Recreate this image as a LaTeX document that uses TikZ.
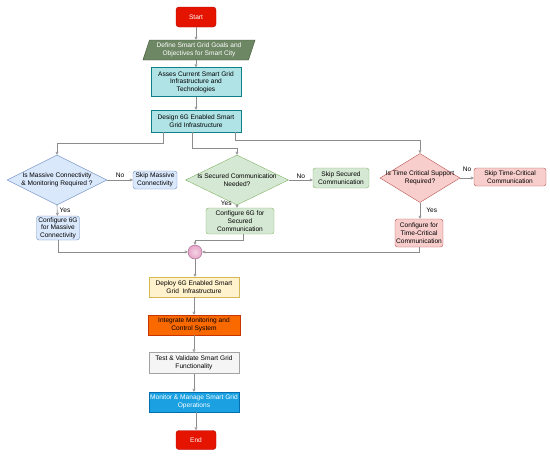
\documentclass[tikz,border=0pt]{standalone}
\usepackage{fontspec}
\setmainfont{Liberation Sans}
\usepackage{tikz}
\usetikzlibrary{arrows.meta, positioning, shapes.geometric, calc}

\definecolor{termred}{HTML}{E51400}
\definecolor{termredline}{HTML}{B20000}
\definecolor{goalgreen}{HTML}{6D8764}
\definecolor{goalgreenline}{HTML}{3A5431}
\definecolor{tealfill}{HTML}{B0E3E6}
\definecolor{tealline}{HTML}{0E8088}
\definecolor{bluefill}{HTML}{DAE8FC}
\definecolor{blueline}{HTML}{6C8EBF}
\definecolor{greenfill}{HTML}{D5E8D4}
\definecolor{greenline}{HTML}{82B366}
\definecolor{pinkfill}{HTML}{F8CECC}
\definecolor{pinkline}{HTML}{B85450}
\definecolor{yellowfill}{HTML}{FFF2CC}
\definecolor{yellowline}{HTML}{D6B656}
\definecolor{orangefill}{HTML}{FA6800}
\definecolor{orangeline}{HTML}{C73500}
\definecolor{greyfill}{HTML}{F5F5F5}
\definecolor{greyline}{HTML}{666666}
\definecolor{skyfill}{HTML}{1BA1E2}
\definecolor{skyline}{HTML}{006EAF}
\definecolor{mergefill}{HTML}{E6A4C8}
\definecolor{mergelight}{HTML}{F5D3E4}
\definecolor{mergeline}{HTML}{996185}
\definecolor{flowgrey}{HTML}{8C8C8C}

\tikzset{
  txt/.style={font=\fontsize{6.6}{7.7}\selectfont, align=center, inner sep=1pt},
  terminal/.style={txt, draw=termredline, fill=termred, text=white, rounded corners=3pt, minimum width=40pt, minimum height=20pt},
  goal/.style={txt, draw=goalgreenline, fill=goalgreen, text=white, trapezium, trapezium left angle=70, trapezium right angle=110, trapezium stretches=true, minimum width=113pt, minimum height=20pt},
  process/.style={txt, draw, minimum width=90pt, minimum height=20pt},
  option/.style={txt, draw, rounded corners=2.5pt},
  decision/.style={txt, draw, diamond, shape aspect=2, inner sep=0pt, inner xsep=-15pt},
  merge/.style={circle, draw=mergeline, inner color=mergelight, outer color=mergefill, minimum size=14pt, inner sep=0pt},
  flow/.style={draw=flowgrey, line width=0.6pt, -{Triangle[open, length=3pt, width=3pt]}},
  lbl/.style={font=\fontsize{6.6}{7.7}\selectfont, inner sep=1pt}
}

\begin{document}
\begin{tikzpicture}[x=1pt, y=-1pt]
  \useasboundingbox (0,0) rectangle (550,456);

  \node[terminal] (start) at (196,17) {Start};
  \node[goal] (goals) at (199,50) {Define Smart Grid Goals and\\Objectives for Smart City};
  \node[process, fill=tealfill, draw=tealline, minimum height=29pt] (assess) at (196,82) {Asses Current Smart Grid\\Infrastructure and\\Technologies};
  \node[process, fill=tealfill, draw=tealline, minimum height=22pt] (design) at (196,121) {Design 6G Enabled Smart\\Grid Infrastructure};

  \node[decision, fill=bluefill, draw=blueline, minimum width=100pt, minimum height=50pt] (massq) at (57,180) {Is Massive Connectivity\\\& Monitoring Required ?};
  \node[option, fill=bluefill, draw=blueline, minimum width=44pt, minimum height=18pt] (massskip) at (155,180) {Skip Massive\\Connectivity};
  \node[option, fill=bluefill, draw=blueline, minimum width=43pt, minimum height=24pt] (massconf) at (58,228) {Configure 6G\\for Massive\\Connectivity};

  \node[decision, fill=greenfill, draw=greenline, minimum width=103pt, minimum height=50pt] (secq) at (237,180) {Is Secured Communication\\Needed?};
  \node[option, fill=greenfill, draw=greenline, minimum width=56pt, minimum height=20pt] (secskip) at (341,178) {Skip Secured\\Communication};
  \node[option, fill=greenfill, draw=greenline, minimum width=68pt, minimum height=26pt] (secconf) at (240,221) {Configure 6G for\\Secured\\Communication};

  \node[decision, fill=pinkfill, draw=pinkline, minimum width=80pt, minimum height=49pt] (timeq) at (420,178) {Is Time Critical Support\\Required?};
  \node[option, fill=pinkfill, draw=pinkline, minimum width=72pt, minimum height=18pt] (timeskip) at (510,177) {Skip Time-Critical\\Communication};
  \node[option, fill=pinkfill, draw=pinkline, minimum width=48pt, minimum height=28pt] (timeconf) at (419,233) {Configure for\\Time-Critical\\Communication};

  \node[merge] (join) at (195,252) {};

  \node[process, fill=yellowfill, draw=yellowline] (deploy) at (194,287) {Deploy 6G Enabled Smart\\Grid\ \ Infrastructure};
  \node[process, fill=orangefill, draw=orangeline, minimum width=92pt] (integrate) at (194,325) {Integrate Monitoring and\\Control System};
  \node[process, fill=greyfill, draw=greyline!60, minimum height=21pt] (test) at (194,363) {Test \& Validate Smart Grid\\Functionality};
  \node[process, fill=skyfill, draw=skyline, text=white] (monitor) at (194,402) {Monitor \& Manage Smart Grid\\Operations};
  \node[terminal, minimum height=19pt] (end) at (196,440) {End};

  \draw[flow] (start) -- (start |- goals.north);
  \draw[flow] (start |- goals.south) -- (assess);
  \draw[flow] (assess) -- (design);

  \draw[flow] ([xshift=-33pt]design.south) |- ([yshift=12pt]massq.north) -- (massq.north);
  \draw[flow] ([xshift=-4pt]design.south) |- ([yshift=7pt]secq.north) -- (secq.north);
  \draw[flow] ([xshift=39pt]design.south) |- ([yshift=13pt]timeq.north) -- (timeq.north);

  \draw[flow] (massq.east) -- node[lbl, above, yshift=1pt] {No} (massskip);
  \draw[flow] (massq.south) -- node[lbl, right, xshift=1pt] {Yes} (massconf);
  \draw[flow] (secq.east) -- node[lbl, above] {No} (secq.east -| secskip.west);
  \draw[flow] (secq.south) -- node[lbl, pos=0, anchor=east, xshift=-4pt, yshift=2pt] {Yes} (secq.south |- secconf.north);
  \draw[flow] (timeq.east) -- node[lbl, above, yshift=5pt] {No} (timeq.east -| timeskip.west);
  \draw[flow] (timeq.south) -- node[lbl, right, xshift=5pt] {Yes} (timeq.south |- timeconf.north);

  \draw[flow] (massconf.south) |- (join.west);
  \draw[flow] ([xshift=3pt]secconf.south) |- ([yshift=5pt]join.north) -- (join.north);
  \draw[flow] (timeconf.south) |- (join.east);

  \draw[flow] (join) -- (join |- deploy.north);
  \draw[flow] (deploy) -- (integrate);
  \draw[flow] (integrate) -- (test);
  \draw[flow] (test) -- (monitor);
  \draw[flow] (monitor.south -| end) -- (end);
\end{tikzpicture}
\end{document}
